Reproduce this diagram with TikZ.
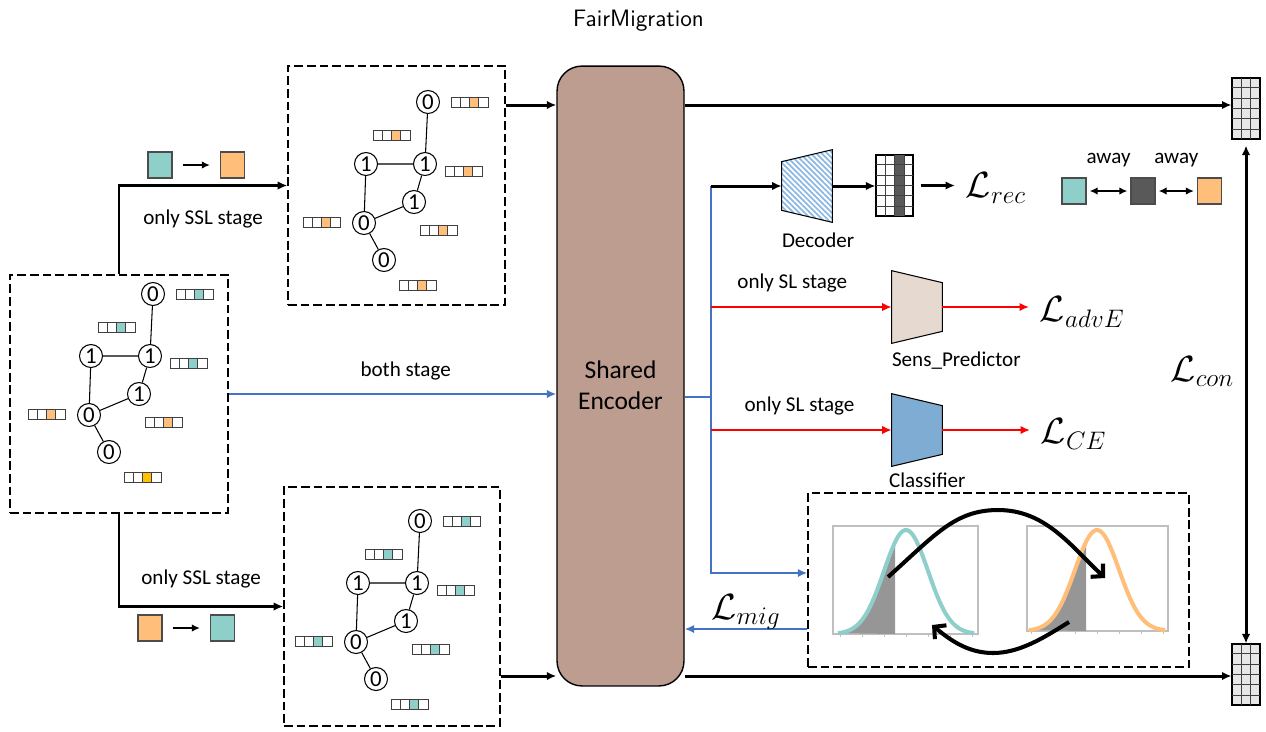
\documentclass[tikz,border=0pt]{standalone}
\usepackage{fontspec}
\setmainfont{Carlito}
\usepackage{amsmath}
\usetikzlibrary{arrows.meta, positioning, calc, patterns.meta}

\definecolor{tealc}{RGB}{142,207,201}
\definecolor{orangec}{RGB}{255,190,122}
\definecolor{goldc}{RGB}{255,192,0}
\definecolor{darkc}{RGB}{89,89,89}
\definecolor{encc}{RGB}{188,157,143}
\definecolor{bluec}{RGB}{68,114,196}
\definecolor{sensc}{RGB}{230,218,208}
\definecolor{clfc}{RGB}{127,172,211}
\definecolor{decc}{RGB}{140,185,228}
\definecolor{gridc}{RGB}{231,231,231}
\definecolor{shadec}{RGB}{150,150,150}
\definecolor{framec}{RGB}{191,191,191}

\tikzset{
    pics/fgraph/.style n args = {3}{code = {
        % toy graph with sensitive labels
        \node[gnode] (-a) at (0,0) {0};
        \node[gnode] (-b) at (-62,62) {1};
        \node[gnode] (-c) at (-3,62) {1};
        \node[gnode] (-d) at (-14,100) {1};
        \node[gnode] (-e) at (-64,121) {0};
        \node[gnode] (-f) at (-44,158) {0};
        \draw[gedge] (-a) -- (-c) (-b) -- (-c) (-b) -- (-e) (-c) -- (-d) (-d) -- (-e) (-e) -- (-f);
        % feature vectors, third slot coloured
        \foreach \bx/\by/\bc in {23/0/#1, -55/33/#1, 17/69/#1, -125/120/#2, -8/128/#2, -29/183/#3}{
            \fill[fill=\bc] (\bx+18.6,\by-5) rectangle ++(9.3,10);
            \draw[cellline] (\bx,\by-5) rectangle ++(37.2,10);
            \foreach \k in {1,2,3}
                \draw[cellline] (\bx+\k*9.3,\by-5) -- ++(0,10);
        }
    }}
}

\begin{document}
\begin{tikzpicture}[
        x = 0.02cm, y = -0.02cm,
        > = {Latex[width=1.7mm,length=1.9mm]},
        font = \fontsize{12}{14.4}\selectfont,
        dbox/.style = {draw, dash pattern=on 5pt off 2.2pt, line width=0.9pt, inner sep=0},
        encbox/.style = {draw, fill=encc, rounded corners=0.5cm, line width=0.8pt,
            minimum width=2.54cm, minimum height=12.4cm},
        sq/.style = {draw=black!70, line width=0.7pt, minimum width=0.48cm, minimum height=0.52cm, inner sep=0},
        slot/.style = {minimum width=1cm, minimum height=1.44cm, inner sep=0},
        trap/.style = {draw, line width=0.6pt},
        cgrid/.style = {draw, fill=gridc, line width=0.6pt, inner sep=0, minimum height=1.22cm},
        cellline/.style = {draw=black!75, line width=0.5pt},
        gnode/.style = {draw, circle, fill=white, line width=0.6pt, minimum size=0.46cm, inner sep=0,
            font=\fontsize{13}{14}\selectfont},
        gedge/.style = {line width=0.6pt},
        arr/.style = {->, line width=1.7pt},
        smallarr/.style = {>={Latex[width=1.5mm,length=1.6mm]}, ->, line width=1.4pt},
        bluearr/.style = {->, draw=bluec, line width=1.6pt},
        redarr/.style = {->, draw=red, line width=1.6pt},
        bendarr/.style = {>={Straight Barb[length=1.7mm,width=3.6mm]}, ->, line width=2.3pt},
        lbl/.style = {inner sep=0},
        loss/.style = {font=\fontsize{20}{23}\selectfont, inner sep=6pt}
    ]

    \useasboundingbox (0,0) rectangle (1266,731);

    \node[font=\sffamily\fontsize{13.5}{16}\selectfont, anchor=base] (title) at (638.5,26) {FairMigration};

    % the three graph views
    \node[dbox, minimum width=4.36cm, minimum height=4.76cm] (gleftbox) at (119,394) {};
    \node[dbox, minimum width=4.34cm, minimum height=4.78cm] (gtopbox) at (396.5,185.5) {};
    \node[dbox, minimum width=4.32cm, minimum height=4.78cm] (gbotbox) at (392,606.5) {};
    \pic (gl) at (153,294) {fgraph={tealc}{orangec}{goldc}};
    \pic (gt) at (428,102) {fgraph={orangec}{orangec}{orangec}};
    \pic (gb) at (420,521) {fgraph={tealc}{tealc}{tealc}};

    % encoder
    \node[encbox] (encoder) at (620.5,376) {};
    \node[font=\fontsize{14.5}{17.6}\selectfont, align=center] (enclbl) at ([yshift=-0.18cm]encoder.center) {Shared\\Encoder};

    % colour swap of the SSL views
    \node[sq, fill=tealc] (swapa) at (160,165) {};
    \node[sq, fill=orangec] (swapb) at (232.5,165) {};
    \node[sq, fill=orangec] (swapc) at (150,628) {};
    \node[sq, fill=tealc] (swapd) at (222.5,628) {};
    \draw[smallarr, shorten <=0.2cm, shorten >=0.2cm] (swapa) -- (swapb);
    \draw[smallarr, shorten <=0.2cm, shorten >=0.2cm] (swapc) -- (swapd);

    \draw[arr] (gleftbox.north) |- node[lbl, pos=0.75, below=0.46cm] (sslt) {only SSL stage} (gtopbox.west);
    \draw[arr] (gleftbox.south) |- node[lbl, pos=0.75, above=0.34cm] (sslb) {only SSL stage} (gbotbox.west);
    \draw[bluearr] (gleftbox.east) -- node[lbl, pos=0.54, above=0.24cm] (both) {both stage} (gleftbox.east -| encoder.west);

    % contrastive branch
    \coordinate (toprow) at (0,105);
    \coordinate (botrow) at (0,676);
    \node[cgrid, minimum width=0.56cm] (gridtop) at (1246,108.5) {};
    \node[cgrid, minimum width=0.56cm] (gridbot) at (1246,674.5) {};
    \draw[arr] (gtopbox.east |- toprow) -- (encoder.west |- toprow);
    \draw[arr] (gbotbox.east |- botrow) -- (encoder.west |- botrow);
    \draw[arr] (encoder.east |- toprow) -- (gridtop.west |- toprow);
    \draw[arr] (encoder.east |- botrow) -- (gridbot.west |- botrow);
    \draw[arr, <->, shorten <=0.12cm] (gridtop.south) -- node[loss, pos=0.46, left] (lcon) {$\mathcal{L}_{con}$} (gridbot.north);

    % heads
    \node[slot] (dec) at (807,186) {};
    \node[slot] (sens) at (917,307) {};
    \node[slot] (clf) at (917,430) {};
    \path[trap, preaction={fill=white}, pattern={Lines[angle=-45,distance=2.2pt,line width=1pt]}, pattern color=decc]
        ($(dec.north west)+(0,12)$) -- (dec.north east) -- (dec.south east) -- ($(dec.south west)+(0,-12)$) -- cycle;
    \draw[trap, fill=sensc] (sens.north west) -- ($(sens.north east)+(0,12)$) -- ($(sens.south east)+(0,-12)$) -- (sens.south west) -- cycle;
    \draw[trap, fill=clfc] (clf.north west) -- ($(clf.north east)+(0,12)$) -- ($(clf.south east)+(0,-12)$) -- (clf.south west) -- cycle;
    \node[lbl, anchor=base west] (declbl) at ([yshift=-0.5cm]dec.south west) {Decoder};
    \node[lbl, anchor=base west] (senslbl) at ([yshift=-0.46cm]sens.south west) {Sens\_Predictor};
    \node[lbl, anchor=base west] (clflbl) at ([yshift=-0.42cm,xshift=-0.06cm]clf.south west) {Classifier};

    \node[cgrid, fill=white, minimum width=0.74cm] (decgrid) at (894.5,185.5) {};
    \fill[darkc] ($(decgrid.north west)!0.5!(decgrid.north east)$) rectangle ($(decgrid.south west)!0.75!(decgrid.south east)$);
    % cell lines of the grids
    \foreach \g/\nc in {decgrid/4, gridtop/3, gridbot/3}{
        \foreach \c in {1,2,3}{
            \ifnum\c<\nc
                \draw[cellline] ($(\g.north west)!{\c/\nc}!(\g.north east)$) -- ($(\g.south west)!{\c/\nc}!(\g.south east)$);
            \fi
        }
        \foreach \r in {1,...,5}
            \draw[cellline] ($(\g.north west)!{\r/6}!(\g.south west)$) -- ($(\g.north east)!{\r/6}!(\g.south east)$);
        \draw[line width=0.6pt] (\g.north west) rectangle (\g.south east);
    }

    \node[loss, anchor=west] (lrec) at (955,188) {$\mathcal{L}_{rec}$};
    \node[loss, anchor=west] (ladv) at (1029,312) {$\mathcal{L}_{advE}$};
    \node[loss, anchor=west] (lce) at (1030,434) {$\mathcal{L}_{CE}$};
    \draw[arr] (dec.east) -- (dec.east -| decgrid.west);
    \draw[arr, shorten <=0.14cm] (decgrid.east) -- (decgrid.east -| lrec.west);
    \draw[redarr] (sens.east) -- (sens.east -| ladv.west);
    \draw[redarr] (clf.east) -- (clf.east -| lce.west);

    % output bus of the encoder
    \coordinate (bus) at (711,397);
    \coordinate (migin) at (0,573);
    \coordinate (migout) at (0,629);
    \node[dbox, minimum width=7.62cm, minimum height=3.48cm] (migbox) at (998.5,580) {};
    \draw[bluec, line width=1.6pt] (encoder.east |- bus) -- (bus);
    \draw[bluearr] (bus |- dec) -- (bus |- migin) -- (migbox.west |- migin);
    \draw[arr] (bus |- dec) -- (dec.west);
    \draw[redarr] (bus |- sens) -- node[lbl, pos=0.45, above=0.26cm] (slsens) {only SL stage} (sens.west);
    \draw[redarr] (bus |- clf) -- node[lbl, pos=0.49, above=0.26cm] (slclf) {only SL stage} (clf.west);
    \draw[bluearr] (migbox.west |- migout) -- node[loss, midway, yshift=0.34cm] (lmig) {$\mathcal{L}_{mig}$} (encoder.east |- migout);

    % push away
    \node[sq, fill=tealc] (awaya) at (1074,191) {};
    \node[sq, fill=darkc] (awayb) at (1143,191) {};
    \node[sq, fill=orangec] (awayc) at (1209.5,191) {};
    \draw[smallarr, <->, shorten <=0.06cm, shorten >=0.06cm] (awaya) -- node[lbl, above=0.45cm] (away1) {away} (awayb);
    \draw[smallarr, <->, shorten <=0.06cm, shorten >=0.06cm] (awayb) -- node[lbl, above=0.45cm] (away2) {away} (awayc);

    % the two score distributions
    \draw[framec, line width=0.6pt] (833,526) rectangle (978,634);
    \draw[framec, line width=0.6pt] (1027,526) rectangle (1168,631);
    \foreach \k in {-3,...,3}{
        \draw[framec] (906+22*\k,634) -- ++(0,3);
        \draw[framec] (1097+22*\k,631) -- ++(0,3);
    }
    \fill[shadec] plot[domain=-3.1:-0.5, samples=30] ({906+22*\x},{634-104*exp(-0.5*(\x)*(\x))}) -- (895,634) -- cycle;
    \fill[shadec] plot[domain=-3.1:-0.5, samples=30] ({1097+22*\x},{631-101*exp(-0.5*(\x)*(\x))}) -- (1086,631) -- cycle;
    \draw[tealc, line width=2.3pt] plot[domain=-3.1:3.1, samples=60] ({906+22*\x},{634-104*exp(-0.5*(\x)*(\x))});
    \draw[orangec, line width=2.3pt] plot[domain=-3.1:3.1, samples=60] ({1097+22*\x},{631-101*exp(-0.5*(\x)*(\x))});
    \draw[bendarr] (888,577) .. controls (935,535) and (955,510) .. (998,510) .. controls (1045,510) and (1070,545) .. (1105,578);
    \draw[bendarr] (1069,622) .. controls (1045,637) and (1020,653) .. (993,653) .. controls (968,653) and (950,640) .. (932,625);

\end{tikzpicture}
\end{document}
